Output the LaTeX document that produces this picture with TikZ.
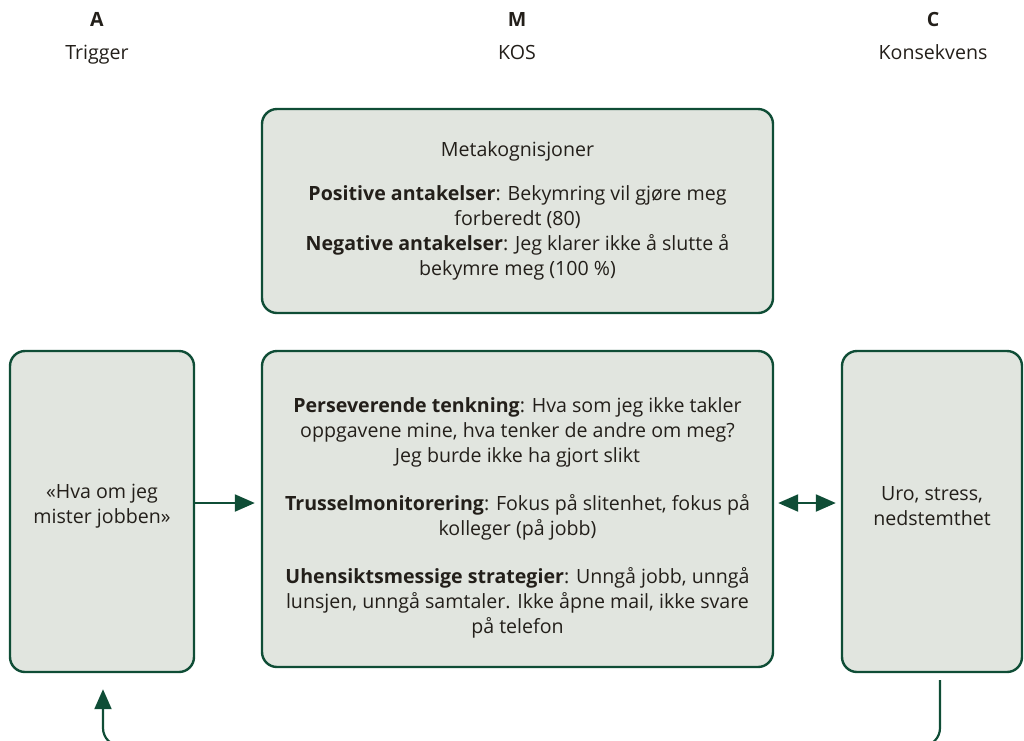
\documentclass[tikz,border=0pt]{standalone}
\usepackage{fontspec}
\setmainfont{Open Sans}
\usetikzlibrary{arrows.meta}
\definecolor{dgreen}{HTML}{0F4D36}
\definecolor{boxfill}{HTML}{E1E5DF}
\definecolor{ink}{HTML}{231F1A}
\begin{document}
\begin{tikzpicture}[x=1pt,y=-1pt,
  box/.style={draw=dgreen, fill=boxfill, line width=2.4pt, rounded corners=15pt, inner sep=0pt},
  txt/.style={align=center, text=ink, inner sep=0pt, font=\fontsize{19.6}{25}\selectfont},
  head/.style={text=ink, font=\fontsize{19.6}{22}\selectfont, inner sep=0pt, text height=14pt, text depth=5pt},
  conn/.style={draw=dgreen, line width=2.2pt},
  tip/.style={-{Triangle[length=20pt,width=17pt]}}
]
\useasboundingbox (0,0) rectangle (1024,740);
% headers
\node[head, font=\fontsize{19.6}{22}\selectfont\bfseries] (hA) at (97,22) {A};
\node[head] (tA) at (97,55) {Trigger};
\node[head, font=\fontsize{19.6}{22}\selectfont\bfseries] (hM) at (517,22) {M};
\node[head] (tM) at (517,55) {KOS};
\node[head, font=\fontsize{19.6}{22}\selectfont\bfseries] (hC) at (933,22) {C};
\node[head] (tC) at (933,55) {Konsekvens};
% boxes
\node[box, minimum width=184pt, minimum height=321pt] (A) at (102,511.5) {};
\node[box, minimum width=511pt, minimum height=204pt] (T) at (517.5,211) {};
\node[box, minimum width=511pt, minimum height=316pt] (M) at (517.5,509) {};
\node[box, minimum width=180pt, minimum height=321pt] (C) at (932,511.5) {};
% texts
\node[txt] (At) at ([yshift=5pt]A.center) {«Hva om jeg\\mister jobben»};
\node[txt] (Tt) at (T.center)
  {Metakognisjoner\\[19pt]
   \textbf{Positive antakelser}: Bekymring vil gjøre meg\\
   forberedt (80)\\
   \textbf{Negative antakelser}: Jeg klarer ikke å slutte å\\
   bekymre meg (100~\%)};
\node[txt] (Mt) at ([yshift=-9pt]M.center)
  {\textbf{Perseverende tenkning}: Hva som jeg ikke takler\\
   oppgavene mine, hva tenker de andre om meg?\\
   Jeg burde ikke ha gjort slikt\\[23pt]
   \textbf{Trusselmonitorering}: Fokus på slitenhet, fokus på\\
   kolleger (på jobb)\\[23pt]
   \textbf{Uhensiktsmessige strategier}: Unngå jobb, unngå\\
   lunsjen, unngå samtaler. Ikke åpne mail, ikke svare\\
   på telefon};
\node[txt] (Ct) at ([yshift=5pt]C.center) {Uro, stress,\\nedstemthet};
% connectors
\draw[conn, tip, shorten >=6pt] (A.east |- 0,503) coordinate (a1) -- (M.west |- a1);
\draw[conn, {Triangle[length=20pt,width=17pt]}-{Triangle[length=20pt,width=17pt]}, shorten <=4pt, shorten >=5pt]
  (M.east |- 0,503) coordinate (m1) -- (C.west |- m1);
\coordinate (cb) at (C.south -| 940,0);
\coordinate (ab) at (A.south -| 103,0);
\coordinate (low1) at (940,746);
\coordinate (low2) at (103,746);
\draw[conn, tip, rounded corners=18pt, shorten <=7pt, shorten >=16pt]
  (cb) -- (low1) -- (low2) -- (ab);
\end{tikzpicture}
\end{document}
